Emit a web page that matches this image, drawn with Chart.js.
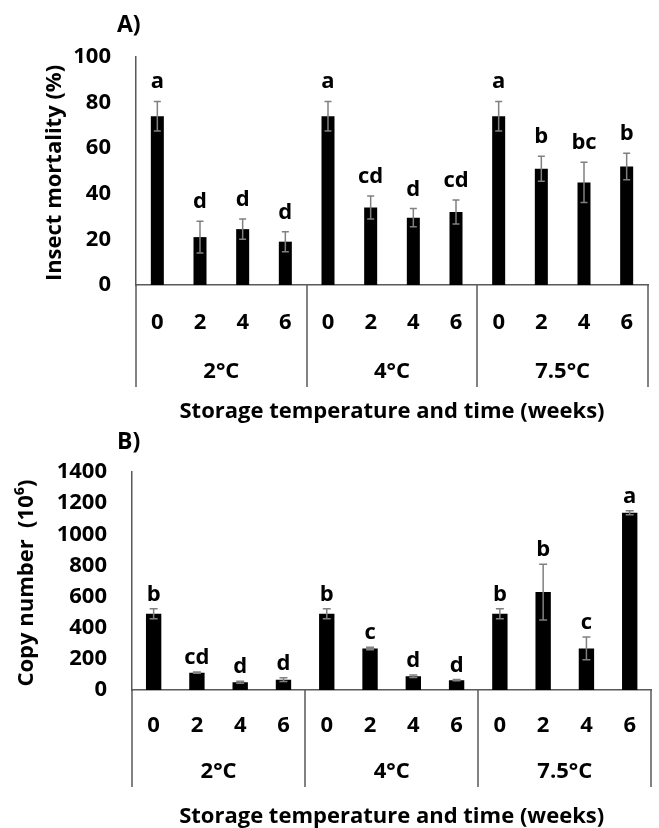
<!DOCTYPE html>
<html>
<head>
<meta charset="utf-8">
<title>Insect mortality and copy number</title>
<script src="https://cdn.jsdelivr.net/npm/chart.js@4.4.1/dist/chart.umd.min.js"></script>
<style>
  body { margin: 0; background: #fff; }
  canvas { display: block; }
</style>
</head>
<body>
<canvas id="chartA" width="659" height="430"></canvas>
<canvas id="chartB" width="659" height="398"></canvas>
<script>
// categories
var weeks = ['0', '2', '4', '6', '0', '2', '4', '6', '0', '2', '4', '6'];
var temperatures = ['2°C', '4°C', '7.5°C'];

// A) insect mortality (%)
var mortality = [74, 21, 24.5, 19, 74, 34, 29.5, 32, 74, 51, 45, 52];
var mortalityErr = [6.5, 7, 4.4, 4.4, 6.5, 5, 4, 5.3, 6.5, 5.5, 8.8, 5.8];
var mortalityLetters = ['a', 'd', 'd', 'd', 'a', 'cd', 'd', 'cd', 'a', 'b', 'bc', 'b'];
var mortalityTicks = [0, 20, 40, 60, 80, 100];

// B) copy number (10^6)
var copies = [490, 111, 50, 66, 490, 267, 89, 63, 490, 629, 267, 1138];
var copiesErr = [32, 4, 6, 12, 32, 8, 8, 4, 32, 179, 73, 13];
var copiesLetters = ['b', 'cd', 'd', 'd', 'b', 'c', 'd', 'd', 'b', 'b', 'c', 'a'];
var copiesTicks = [0, 200, 400, 600, 800, 1000, 1200, 1400];

var FONT = '"Open Sans", "DejaVu Sans", sans-serif';
var BIG = { family: FONT, size: 22, weight: 'bold' };
Chart.defaults.font.family = FONT;
Chart.defaults.color = '#000';

// error bars, letters, grouped category axis, axis titles and panel label
var extras = {
    id: 'extras',
    afterDatasetsDraw: function (chart, args, o) {
        var ctx = chart.ctx;
        var x = chart.scales.x;
        var y = chart.scales.y;
        var values = chart.data.datasets[0].data;
        ctx.save();
        ctx.font = 'bold 22px ' + FONT;
        ctx.textAlign = 'center';
        values.forEach(function (v, i) {
            var px = x.getPixelForValue(i);
            var top = y.getPixelForValue(v + o.err[i]);
            var bot = y.getPixelForValue(v - o.err[i]);
            ctx.strokeStyle = '#808080';
            ctx.lineWidth = 1.5;
            ctx.beginPath();
            ctx.moveTo(px, top); ctx.lineTo(px, bot);
            ctx.moveTo(px - o.cap, top); ctx.lineTo(px + o.cap, top);
            ctx.moveTo(px - o.cap, bot); ctx.lineTo(px + o.cap, bot);
            ctx.stroke();
            ctx.fillStyle = '#000';
            ctx.textBaseline = 'alphabetic';
            ctx.fillText(o.letters[i], px, top - o.gap);
        });

        // group dividers below the axis
        var axisY = y.bottom;
        ctx.strokeStyle = '#595959';
        ctx.lineWidth = 1.5;
        for (var b = 0; b <= o.groups.length; b++) {
            var bx = Math.round(x.getPixelForValue(b * 4 - 0.5));
            ctx.beginPath();
            ctx.moveTo(bx, axisY);
            ctx.lineTo(bx, axisY + o.divLen);
            ctx.stroke();
        }
        ctx.textBaseline = 'middle';
        o.groups.forEach(function (g, k) {
            var gx = x.getPixelForValue(k * 4 + 1.5);
            ctx.fillText(g, gx, axisY + o.groupOffset);
        });
        ctx.fillText('Storage temperature and time (weeks)', (x.left + x.right) / 2, axisY + o.titleOffset);

        // y title, rotated
        ctx.save();
        ctx.translate(o.yTitleX, (y.top + y.bottom) / 2 + 2);
        ctx.rotate(-Math.PI / 2);
        ctx.fillText(o.yTitle, 0, 0);
        ctx.restore();

        // panel label
        ctx.textAlign = 'left';
        ctx.font = 'bold 23px ' + FONT;
        ctx.fillText(o.panel, o.panelX, o.panelY);
        ctx.restore();
    }
};

function makeChart(id, values, err, letters, ticks, cfg) {
    var ctx = document.getElementById(id).getContext('2d');
    return new Chart(ctx, {
        type: 'bar',
        data: {
            labels: weeks,
            datasets: [{
                data: values,
                backgroundColor: '#000',
                borderWidth: 0,
                categoryPercentage: 1,
                barPercentage: cfg.barPct
            }]
        },
        options: {
            responsive: false,
            animation: false,
            layout: { padding: { top: cfg.top, left: 0, right: cfg.right, bottom: 0 } },
            plugins: {
                legend: { display: false },
                tooltip: { enabled: false },
                extras: {
                    err: err, letters: letters, groups: temperatures, cap: cfg.cap, gap: cfg.gap,
                    divLen: cfg.divLen, groupOffset: cfg.groupOffset, titleOffset: 127,
                    yTitle: cfg.yTitle, yTitleX: cfg.yTitleX,
                    panel: cfg.panel, panelX: 117, panelY: cfg.panelY
                }
            },
            scales: {
                x: {
                    grid: { display: false, drawTicks: false },
                    border: { display: true, color: '#595959', width: 1.5 },
                    ticks: { padding: cfg.tickPad, maxRotation: 0, autoSkip: false, font: BIG },
                    afterFit: function (s) { s.height = cfg.xHeight; }
                },
                y: {
                    min: 0,
                    max: ticks[ticks.length - 1],
                    afterBuildTicks: function (s) {
                        s.ticks = ticks.map(function (t) { return { value: t }; });
                    },
                    grid: { display: false, drawTicks: false },
                    border: { display: true, color: '#595959', width: 1.5 },
                    ticks: {
                        padding: 25,
                        font: BIG,
                        callback: function (v) { return String(v); }
                    },
                    afterFit: function (s) { s.width = cfg.yWidth; }
                }
            }
        },
        plugins: [extras]
    });
}

makeChart('chartA', mortality, mortalityErr, mortalityLetters, mortalityTicks, {
    barPct: 0.305, top: 57, right: 11, xHeight: 145, yWidth: 136, yTitleX: 55,
    yTitle: 'Insect mortality (%)', tickPad: 25, cap: 3.5, gap: 13,
    divLen: 102, groupOffset: 87, panel: 'A)', panelY: 25
});

makeChart('chartB', copies, copiesErr, copiesLetters, copiesTicks, {
    barPct: 0.355, top: 42, right: -3, xHeight: 138, yWidth: 132, yTitleX: 27,
    yTitle: 'Copy number  (10\u2076)', tickPad: 23, cap: 4, gap: 8,
    divLen: 97, groupOffset: 82, panel: 'B)', panelY: 12
});
</script>
</body>
</html>
